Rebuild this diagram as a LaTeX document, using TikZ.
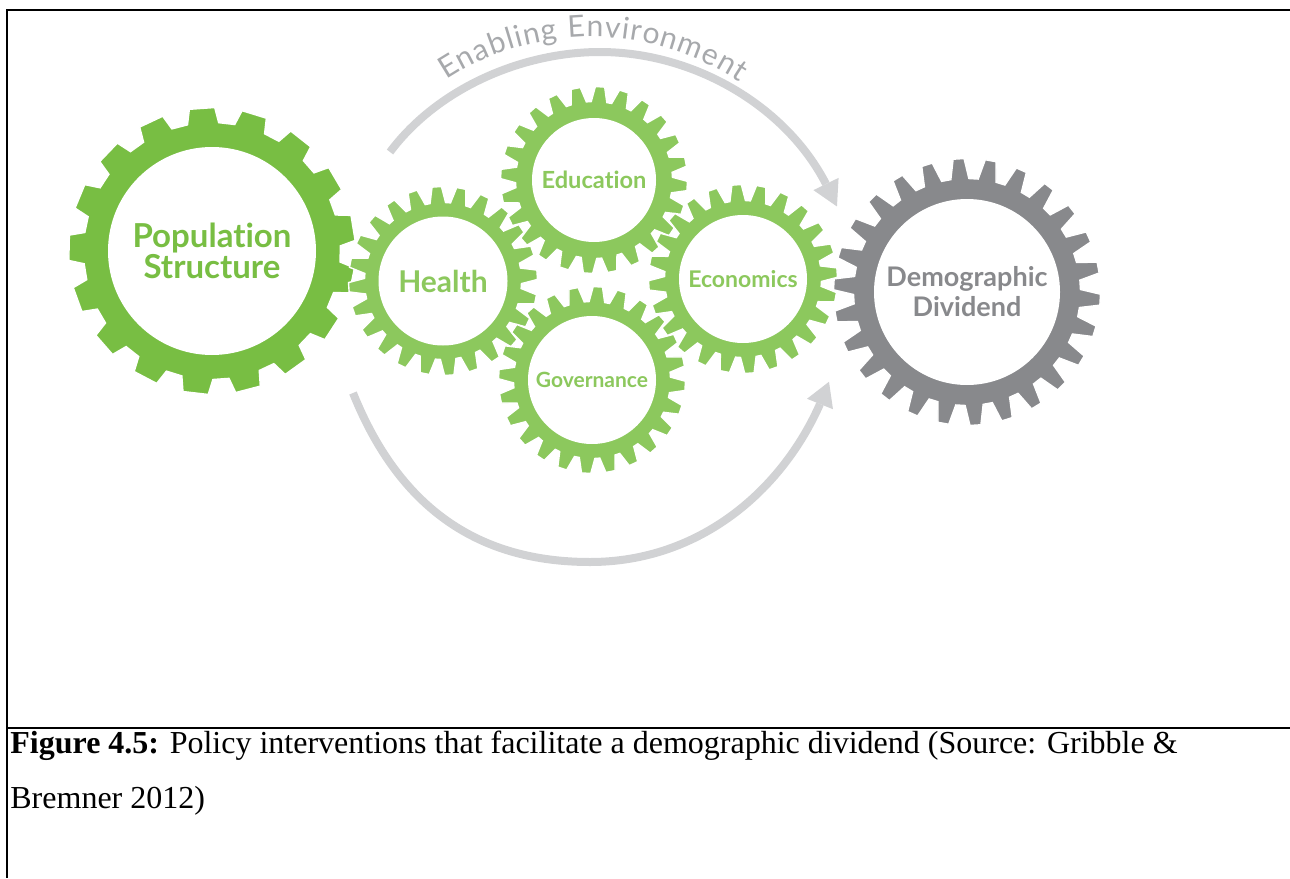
\documentclass[tikz,border=0pt]{standalone}
\usepackage{fontspec}
\setmainfont{Liberation Serif}
\newfontfamily\gearfont[Ligatures=NoCommon]{Lato}
\usetikzlibrary{calc,decorations.text}
\definecolor{popgreen}{HTML}{78BE43}
\definecolor{lightgreen}{HTML}{8CC85D}
\definecolor{geargray}{HTML}{88898C}
\definecolor{arcgray}{HTML}{D1D2D4}
\definecolor{envgray}{HTML}{A7A9AC}
\newcommand{\drawgear}[8]{% center, n, rroot, rtip, phase, wb, wt, color
  \pgfmathsetmacro{\gp}{360/#2}
  \pgfmathtruncatemacro{\gn}{#2-1}
  \filldraw[fill=#8, draw=white, line width=0.7pt, line join=miter, shift={#1}]
    ({#5-#6*\gp}:#3)
    \foreach \k in {0,...,\gn} {
      -- ({#5+\k*\gp-#6*\gp}:#3)
      -- ({#5+\k*\gp-#7*\gp}:#4)
      -- ({#5+\k*\gp+#7*\gp}:#4)
      -- ({#5+\k*\gp+#6*\gp}:#3)
    } -- cycle;
}
\tikzset{
  hub/.style={circle, fill=white, inner sep=0pt, align=center},
  arcline/.style={draw=arcgray, line width=4pt},
  arrowhead/.style={fill=arcgray},
  border/.style={line width=1pt, draw=black},
}
\begin{document}
\begin{tikzpicture}[x=0.5pt, y=-0.5pt]
\useasboundingbox (0,0) rectangle (1290,878);
% frame
\draw[border] (1290,10) -- (7,10) -- (7,878);
\draw[border] (7,728) -- (1290,728);

% upper arc
\coordinate (us) at (390,152);
\coordinate (utop) at (600,52);
\coordinate (ub) at (826,184);
\draw[arcline] (us) .. controls (437,89) and (521,52) .. (utop)
  .. controls (694,52) and (786,106) .. (ub);
\coordinate (ut) at ($(ub)+(64:25)$);
\fill[arrowhead] ($(ub)+(-26:14)$) -- (ut) -- ($(ub)+(154:14)$) -- cycle;

% lower arc
\coordinate (ls) at (353,393);
\coordinate (lbot) at (590,562);
\coordinate (lb) at (820,404);
\draw[arcline] (ls) .. controls (400,510) and (480,562) .. (lbot)
  .. controls (700,562) and (782,490) .. (lb);
\coordinate (lt) at ($(lb)+(-68:24)$);
\fill[arrowhead] ($(lb)+(22:14)$) -- (lt) -- ($(lb)+(202:14)$) -- cycle;

% curved label
\path[decorate, decoration={text along path, text align={fit to path},
  text={|\gearfont\fontsize{15}{15}\selectfont\color{envgray}|Enabling Environment}}]
  plot[domain=-123:-56, samples=70] ({591+266*cos(\x)}, {303+266*sin(\x)});

% gears
\drawgear{(212,251)}{17}{128.5}{143.5}{-94}{0.33}{0.24}{popgreen}
\node[hub, minimum size=104pt, text=popgreen, font=\gearfont\bfseries\fontsize{16.5}{15.5}\selectfont] (pop) at (212,251) {Population\\Structure};

\drawgear{(443,281)}{24}{78.5}{94.5}{-33.8}{0.38}{0.19}{lightgreen}
\node[hub, minimum size=64.5pt, text=lightgreen, font=\gearfont\bfseries\fontsize{15}{15}\selectfont] (health) at (443,281) {Health};

\drawgear{(594,180)}{24}{78.5}{93.5}{3.7}{0.38}{0.19}{lightgreen}
\node[hub, minimum size=62pt, text=lightgreen, font=\gearfont\bfseries\fontsize{11.8}{12}\selectfont] (edu) at (594,180) {Education};

\drawgear{(592,380)}{24}{78.5}{93.5}{3.6}{0.38}{0.19}{lightgreen}
\node[hub, minimum size=64pt, text=lightgreen, font=\gearfont\bfseries\fontsize{10.5}{11}\selectfont] (gov) at (592,380) {Governance};

\drawgear{(743,279)}{24}{78.5}{94.5}{-3.9}{0.38}{0.19}{lightgreen}
\node[hub, minimum size=64pt, text=lightgreen, font=\gearfont\bfseries\fontsize{11.5}{12}\selectfont] (econ) at (743,279) {Economics};

\drawgear{(967,292)}{26}{113.5}{133.5}{183.3}{0.33}{0.17}{geargray}
\node[hub, minimum size=93pt, text=geargray, font=\gearfont\bfseries\fontsize{13.5}{15}\selectfont] (demo) at (967,292) {Demographic\\Dividend};

% caption
\node[anchor=base west, inner sep=0pt, font=\fontsize{16}{16}\selectfont] (cap1) at (10,753)
  {\textbf{Figure 4.5:} Policy interventions that facilitate a demographic dividend (Source: Gribble \&};
\node[anchor=base west, inner sep=0pt, font=\fontsize{16}{16}\selectfont] (cap2) at (10,808)
  {Bremner 2012)};
\end{tikzpicture}
\end{document}
